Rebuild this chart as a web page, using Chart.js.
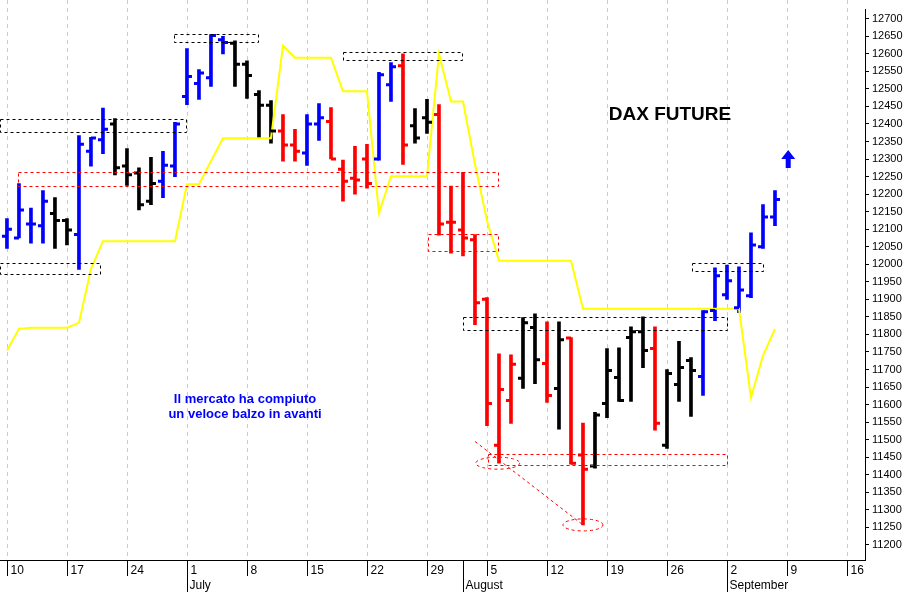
<!DOCTYPE html>
<html>
<head>
<meta charset="utf-8">
<script src="https://cdn.jsdelivr.net/npm/chart.js@4"></script>
<style>
  html, body { margin: 0; padding: 0; background: #fff; }
  #wrap { width: 915px; height: 592px; }
</style>
</head>
<body>
<div id="wrap"><canvas id="dax"></canvas></div>
<script>
// daily OHLC, index 0 = Mon 10 June (trading days only)
const opens  = [12080,12075,12115,12110,12145,12125,12085,12322,12355,12400,12280,12260,12180,12237,12280,12478,12515,12532,12640,12630,12570,12484,12453,12380,12340,12317,12400,12407,12271,12245,12300,12300,12512,12566,12395,12418,12427,12120,12098,12070,11900,11484,11612,11675,11820,11717,11646,11790,11456,11425,11603,11677,11791,11808,11760,11484,11657,11726,11680,11868,11913,11876,11910,12050,12135];
const highs  = [12130,12230,12160,12210,12190,12130,12367,12362,12445,12415,12330,12275,12305,12322,12405,12615,12555,12655,12650,12637,12580,12495,12467,12427,12385,12427,12458,12447,12297,12336,12342,12547,12575,12600,12444,12470,12455,12223,12262,12085,11905,11745,11742,11848,11859,11836,11836,11791,11547,11578,11760,11762,11822,11850,11822,11700,11780,11734,11868,11990,11998,11993,12090,12170,12210];
const lows   = [12045,12075,12060,12060,12045,12055,11985,12280,12315,12255,12225,12155,12170,12190,12250,12455,12470,12507,12600,12507,12473,12360,12345,12294,12294,12282,12353,12300,12180,12200,12217,12297,12464,12285,12345,12373,12083,12032,12024,11828,11540,11433,11546,11646,11660,11606,11530,11430,11257,11419,11563,11609,11609,11705,11527,11475,11609,11566,11626,11839,11900,11862,11905,12045,12110];
const closes = [12100,12155,12115,12180,12125,12098,12342,12360,12385,12275,12255,12170,12230,12282,12400,12535,12545,12652,12632,12570,12538,12453,12380,12340,12322,12400,12418,12300,12237,12240,12230,12540,12563,12340,12360,12405,12115,12120,12075,11890,11603,11643,11715,11833,11728,11626,11785,11433,11416,11570,11697,11612,11808,11754,11547,11689,11706,11697,11865,11967,11953,11927,12055,12135,12185];
const barColors = ['b','b','b','b','k','k','b','b','b','k','k','k','k','b','b','b','b','b','b','k','k','k','k','r','r','b','b','r','r','r','r','b','b','r','k','k','r','r','r','r','r','r','r','k','k','r','k','r','r','k','k','k','k','k','r','k','k','k','b','b','b','b','b','b','b'];
const stopLine = [11754,11816,11819,11819,11819,11819,11833,11987,12066,12066,12066,12066,12066,12066,12066,12228,12228,12294,12359,12359,12359,12359,12359,12623,12589,12589,12589,12589,12493,12493,12493,12146,12251,12251,12251,12251,12600,12464,12464,12285,12125,12010,12010,12010,12010,12010,12010,12010,11873,11873,11873,11873,11873,11873,11873,11873,11873,11873,11873,11873,11873,11873,11620,11740,11816];
const weekIdx    = [0,5,10,15,20,25,30,35,40,45,50,55,60,65,70];
const weekLabels = ['10','17','24','1','8','15','22','29','5','12','19','26','2','9','16'];
const monthIdx    = [15,38,60];
const monthLabels = ['July','August','September'];
const priceTicks = [];
for (let p = 11200; p <= 12700; p += 50) priceTicks.push(p);
// dashed support/resistance boxes: [x0, x1, top, bottom, colour]
const boxes = [
  [-0.6,14.9,12415,12379,'k'], [-0.6,7.75,12004,11973,'k'], [13.9,20.9,12657,12635,'k'],
  [0.9,40.9,12262,12223,'r'], [28,37.9,12606,12584,'k'], [35.1,40.9,12086,12038,'r'],
  [38,60,11850,11813,'k'], [40.1,60,11458,11427,'r'], [57.1,63,12004,11981,'k']
];

const colMap = { b: '#0000ff', k: '#000000', r: '#ff0000' };
const ranges = lows.map((l, i) => ({ x: i, y: [l, highs[i]] }));

const overlay = {
  id: 'overlay',
  beforeDatasetsDraw(chart) {
    const { ctx, chartArea: a, scales: { x } } = chart;
    ctx.save();
    ctx.strokeStyle = '#c8c8ee';
    ctx.lineWidth = 1;
    ctx.setLineDash([4, 4]);
    weekIdx.forEach(w => {
      const px = Math.round(x.getPixelForValue(w)) + 0.5;
      ctx.beginPath(); ctx.moveTo(px, 0); ctx.lineTo(px, a.bottom); ctx.stroke();
    });
    ctx.restore();
  },
  afterDatasetsDraw(chart) {
    const { ctx, chartArea: a, scales: { x, y } } = chart;
    ctx.save();
    // open / close ticks
    ctx.lineWidth = 3;
    opens.forEach((o, i) => {
      const px = x.getPixelForValue(i);
      ctx.strokeStyle = colMap[barColors[i]];
      ctx.beginPath();
      ctx.moveTo(px - 5, y.getPixelForValue(o)); ctx.lineTo(px, y.getPixelForValue(o));
      ctx.moveTo(px, y.getPixelForValue(closes[i])); ctx.lineTo(px + 5, y.getPixelForValue(closes[i]));
      ctx.stroke();
    });
    // boxes
    ctx.lineWidth = 1;
    ctx.setLineDash([3, 3]);
    boxes.forEach(b => {
      ctx.strokeStyle = colMap[b[4]];
      const x0 = x.getPixelForValue(b[0]), x1 = x.getPixelForValue(b[1]);
      const y0 = y.getPixelForValue(b[2]), y1 = y.getPixelForValue(b[3]);
      ctx.strokeRect(Math.round(x0) + 0.5, Math.round(y0) + 0.5, Math.round(x1 - x0), Math.round(y1 - y0));
    });
    // lows ellipses + connecting line
    ctx.strokeStyle = '#ff0000';
    ctx.beginPath();
    ctx.ellipse(x.getPixelForValue(40.9), y.getPixelForValue(11433), 22, 6, 0, 0, Math.PI * 2);
    ctx.stroke();
    ctx.beginPath();
    ctx.ellipse(x.getPixelForValue(48), y.getPixelForValue(11257), 20, 6, 0, 0, Math.PI * 2);
    ctx.stroke();
    ctx.beginPath();
    ctx.moveTo(x.getPixelForValue(39), y.getPixelForValue(11495));
    ctx.lineTo(x.getPixelForValue(48), y.getPixelForValue(11257));
    ctx.stroke();
    ctx.setLineDash([]);
    // arrow
    const ax = x.getPixelForValue(65.1), ay = y.getPixelForValue(12300);
    ctx.fillStyle = '#0000ff';
    ctx.beginPath();
    ctx.moveTo(ax, ay - 9); ctx.lineTo(ax + 7, ay); ctx.lineTo(ax + 2.5, ay);
    ctx.lineTo(ax + 2.5, ay + 9); ctx.lineTo(ax - 2.5, ay + 9); ctx.lineTo(ax - 2.5, ay);
    ctx.lineTo(ax - 7, ay); ctx.closePath(); ctx.fill();
    // texts
    ctx.fillStyle = '#000';
    ctx.font = 'bold 19px Arial, "Liberation Sans", sans-serif';
    ctx.textAlign = 'center';
    ctx.fillText('DAX FUTURE', 670, 120);
    ctx.fillStyle = '#0000ff';
    ctx.font = 'bold 13px Arial, "Liberation Sans", sans-serif';
    ctx.fillText('Il mercato ha compiuto', 245, 403);
    ctx.fillText('un veloce balzo in avanti', 245, 418);
    // x axis labels
    ctx.fillStyle = '#000';
    ctx.font = '12px Arial, "Liberation Sans", sans-serif';
    ctx.textAlign = 'left';
    ctx.strokeStyle = '#000';
    ctx.lineWidth = 1;
    weekIdx.forEach((w, k) => {
      const px = Math.round(x.getPixelForValue(w)) + 0.5;
      ctx.beginPath(); ctx.moveTo(px, a.bottom); ctx.lineTo(px, a.bottom + 16); ctx.stroke();
      ctx.fillText(weekLabels[k], px + 3, a.bottom + 14);
    });
    monthIdx.forEach((m, k) => {
      const px = Math.round(x.getPixelForValue(m)) + 0.5;
      ctx.beginPath(); ctx.moveTo(px, a.bottom); ctx.lineTo(px, a.bottom + 32); ctx.stroke();
      ctx.fillText(monthLabels[k], px + 2, a.bottom + 29);
    });
    ctx.restore();
  }
};

new Chart(document.getElementById('dax'), {
  data: {
    datasets: [
      {
        type: 'line',
        data: stopLine.map((v, i) => ({ x: i, y: v })),
        borderColor: '#ffff00',
        borderWidth: 2,
        pointRadius: 0,
        tension: 0,
      },
      {
        type: 'bar',
        data: ranges,
        backgroundColor: barColors.map(c => colMap[c]),
        barThickness: 3,
        grouped: false,
      },
    ],
  },
  options: {
    responsive: true,
    maintainAspectRatio: false,
    animation: false,
    layout: { padding: 0 },
    plugins: { legend: { display: false }, tooltip: { enabled: false } },
    scales: {
      x: {
        type: 'linear',
        min: -0.58,
        max: 71.5,
        offset: false,
        grid: { display: false },
        border: { color: '#000' },
        ticks: { display: false },
        afterFit: (s) => { s.height = 32; },
      },
      y: {
        position: 'right',
        min: 11157,
        max: 12726,
        grid: { drawOnChartArea: false, tickLength: 4, color: '#000' },
        border: { color: '#000' },
        afterBuildTicks: (s) => { s.ticks = priceTicks.map(v => ({ value: v })); },
        ticks: {
          autoSkip: false,
          color: '#000',
          font: { size: 11, family: 'Arial, "Liberation Sans", sans-serif' },
          callback: (v) => v,
        },
        afterFit: (s) => { s.width = 50; },
      },
    },
  },
  plugins: [overlay],
});
</script>
</body>
</html>
